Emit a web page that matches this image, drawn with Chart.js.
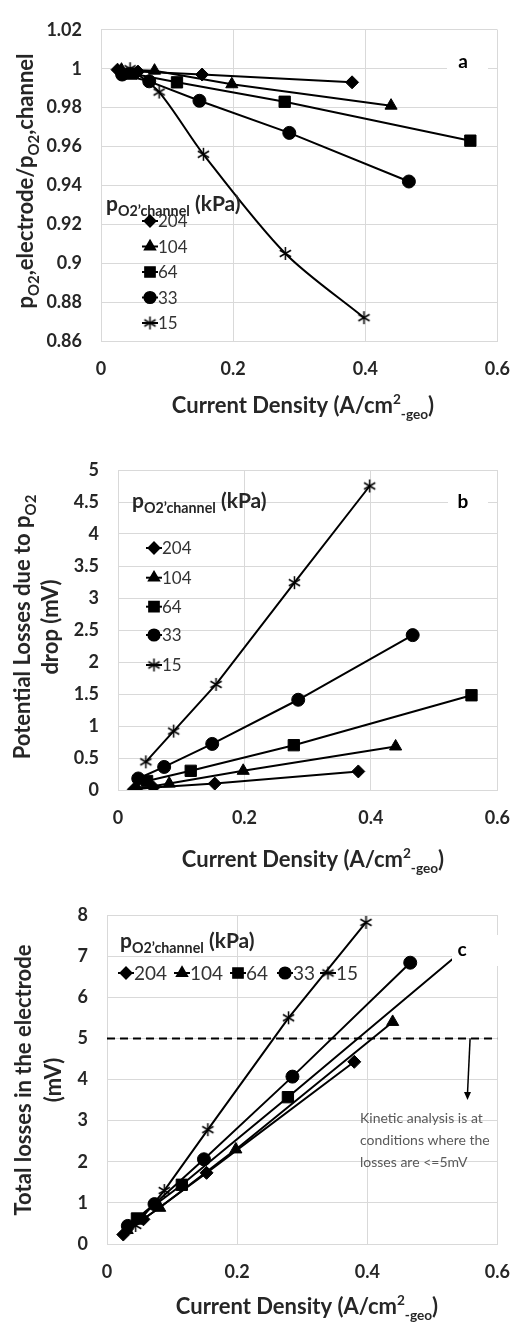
<!DOCTYPE html>
<html>
<head>
<title>Oxygen transport losses</title>
<script src="https://cdn.jsdelivr.net/npm/chart.js"></script>
<style>
  body { margin: 0; background: #ffffff; font-family: Lato, sans-serif; }
  #wrap { position: relative; width: 527px; height: 1323px; }
  canvas { position: absolute; left: 0; }
</style>
</head>
<body>
<div id="wrap">
  <canvas id="chartA" width="527" height="430" style="top:0px"></canvas>
  <canvas id="chartB" width="527" height="450" style="top:430px"></canvas>
  <canvas id="chartC" width="527" height="443" style="top:880px"></canvas>
</div>
<script>
// series: channel pO2 (kPa)
const seriesNames = ["204", "104", "64", "33", "15"];

// current density (A/cm2) of each point, per series
const x204 = [0.025, 0.056, 0.153, 0.38];
const x104 = [0.031, 0.081, 0.198, 0.439];
const x64 = [0.046, 0.115, 0.278, 0.559];
const x33 = [0.032, 0.073, 0.149, 0.285, 0.466];
const x15 = [0.044, 0.088, 0.155, 0.279, 0.398];

// a) pO2 electrode / pO2 channel
const ratio204 = [0.9995, 0.9985, 0.997, 0.993];
const ratio104 = [0.9995, 0.999, 0.992, 0.981];
const ratio64 = [0.9975, 0.993, 0.983, 0.963];
const ratio33 = [0.997, 0.9935, 0.9835, 0.967, 0.942];
const ratio15 = [1.0, 0.988, 0.956, 0.905, 0.872];

// b) potential losses due to pO2 drop (mV)
const drop204 = [0.01, 0.04, 0.1, 0.29];
const drop104 = [0.02, 0.1, 0.3, 0.68];
const drop64 = [0.14, 0.3, 0.7, 1.48];
const drop33 = [0.18, 0.36, 0.72, 1.41, 2.42];
const drop15 = [0.44, 0.92, 1.65, 3.24, 4.75];

// c) total losses in the electrode (mV)
const total204 = [0.23, 0.6, 1.73, 4.43];
const total104 = [0.34, 0.88, 2.3, 5.4];
const total64 = [0.62, 1.44, 3.57, 7.3];
const total33 = [0.44, 0.97, 2.06, 4.07, 6.84];
const total15 = [0.45, 1.3, 2.78, 5.5, 7.82];

// axis ticks
const xTicks = [0, 0.2, 0.4, 0.6];
const yTicksA = [0.86, 0.88, 0.9, 0.92, 0.94, 0.96, 0.98, 1, 1.02];
const yTicksB = [0, 0.5, 1, 1.5, 2, 2.5, 3, 3.5, 4, 4.5, 5];
const yTicksC = [0, 1, 2, 3, 4, 5, 6, 7, 8];

const lossLimit = 5; // mV, kinetic analysis threshold
const arrowFrom = { x: 0.558, y: 5 };
const arrowTo = { x: 0.554, y: 3.5 };

const xLists = [x204, x104, x64, x33, x15];
const GRID = "#d9d9d9";
const TEXT = "#262626";

// six-armed asterisk like the Excel marker
function makeAsterisk(size) {
  const c = document.createElement("canvas");
  c.width = size; c.height = size;
  const g = c.getContext("2d");
  const r = size / 2 - 1;
  g.strokeStyle = "#000";
  g.lineWidth = 1.5;
  [90, 30, -30].forEach((deg) => {
    const a = (deg * Math.PI) / 180;
    g.beginPath();
    g.moveTo(size / 2 - Math.cos(a) * r, size / 2 - Math.sin(a) * r);
    g.lineTo(size / 2 + Math.cos(a) * r, size / 2 + Math.sin(a) * r);
    g.stroke();
  });
  return c;
}
const markers = ["rectRot", "triangle", "rect", "circle", makeAsterisk(15)];
const markerRadius = [6.5, 7, 8, 6.5, 7];

function buildDatasets(yLists, curved) {
  return seriesNames.map((name, i) => ({
    label: name,
    data: xLists[i].map((x, j) => ({ x: x, y: yLists[i][j] })),
    showLine: true,
    borderColor: "#000",
    backgroundColor: "#000",
    borderWidth: 2,
    pointStyle: markers[i],
    pointRadius: markerRadius[i],
    pointHoverRadius: markerRadius[i],
    pointBorderColor: "#000",
    pointBackgroundColor: "#000",
    pointBorderWidth: 1,
    tension: curved && i === 4 ? 0.3 : 0,
  }));
}

function scalesFor(yTicks, yMin, yMax, yWidth, xHeight) {
  const tickFont = { family: "Lato", size: 18, weight: "bold" };
  return {
    x: {
      type: "linear", min: 0, max: 0.6,
      afterBuildTicks: (s) => { s.ticks = xTicks.map((v) => ({ value: v })); },
      afterFit: (s) => { s.height = xHeight; },
      grid: { color: GRID, drawTicks: false },
      border: { color: GRID },
      ticks: { padding: 17, color: TEXT, font: tickFont, callback: (v) => String(v) },
    },
    y: {
      type: "linear", min: yMin, max: yMax,
      afterBuildTicks: (s) => { s.ticks = yTicks.map((v) => ({ value: v })); },
      afterFit: (s) => { s.width = yWidth; },
      grid: { color: GRID, drawTicks: false },
      border: { color: GRID },
      ticks: { padding: 19, color: TEXT, font: tickFont, callback: (v) => String(v) },
    },
  };
}

// text with sub/superscripts: parts = [text, scale, shift]
function drawRich(ctx, parts, x, y, opt) {
  ctx.save();
  ctx.translate(x, y);
  if (opt.rotate) ctx.rotate(-Math.PI / 2);
  ctx.fillStyle = opt.color || TEXT;
  ctx.textBaseline = "alphabetic";
  ctx.textAlign = "left";
  const fontOf = (p) => `${opt.weight || "bold"} ${opt.size * (p[1] || 1)}px Lato`;
  let w = 0;
  parts.forEach((p) => { ctx.font = fontOf(p); w += ctx.measureText(p[0]).width; });
  let cx = opt.align === "left" ? 0 : -w / 2;
  parts.forEach((p) => {
    ctx.font = fontOf(p);
    ctx.fillText(p[0], cx, (p[2] || 0) * opt.size);
    cx += ctx.measureText(p[0]).width;
  });
  ctx.restore();
}

function drawKey(ctx, i, cx, cy, size) {
  ctx.save();
  ctx.strokeStyle = "#000";
  ctx.fillStyle = "#000";
  ctx.lineWidth = 2;
  ctx.beginPath();
  ctx.moveTo(cx - 8, cy);
  ctx.lineTo(cx + 8, cy);
  ctx.stroke();
  ctx.lineWidth = 1.5;
  Chart.helpers.drawPoint(ctx, { pointStyle: markers[i], radius: markerRadius[i] * 0.9, borderWidth: 1.5, rotation: 0 }, cx, cy);
  ctx.fillStyle = "#333";
  ctx.font = `${size}px Lato`;
  ctx.textBaseline = "middle";
  ctx.textAlign = "left";
  ctx.fillText(seriesNames[i], cx + 8, cy + 1);
  ctx.restore();
}

function drawTag(ctx, letter, box, lx, ly) {
  ctx.save();
  ctx.fillStyle = "#fff";
  ctx.fillRect(box[0], box[1], box[2], box[3]);
  ctx.fillStyle = "#000";
  ctx.font = "bold 19px Lato";
  ctx.textAlign = "center";
  ctx.textBaseline = "middle";
  ctx.fillText(letter, lx, ly);
  ctx.restore();
}

const xTitle = [["Current Density (A/cm"], ["2", 0.62, -0.42], ["-geo", 0.62, 0.28], [")"]];
const keyTitle = [["p"], ["O2\u2019channel", 0.68, 0.25], [" (kPa)"]];

const decorA = {
  id: "decorA",
  afterDraw(chart) {
    const ctx = chart.ctx;
    drawRich(ctx, xTitle, 303, 413, { size: 22 });
    drawRich(ctx, [["p"], ["O2", 0.68, 0.25], [",electrode/p"], ["O2", 0.68, 0.25], [",channel"]], 33, 181, { size: 22, rotate: true });
    drawTag(ctx, "a", [447, 50, 41, 24], 463, 62);
    drawRich(ctx, keyTitle, 106, 211, { size: 21, align: "left" });
    [221, 246.5, 272, 297.5, 323].forEach((y, i) => drawKey(ctx, i, 150, y, 17));
  },
};

const decorB = {
  id: "decorB",
  afterDraw(chart) {
    const ctx = chart.ctx;
    drawRich(ctx, xTitle, 313, 437, { size: 22 });
    drawRich(ctx, [["Potential Losses due to p"], ["O2", 0.68, 0.25]], 30, 197, { size: 22, rotate: true });
    drawRich(ctx, [["drop (mV)"]], 58, 197, { size: 22, rotate: true });
    drawTag(ctx, "b", [448, 60, 40, 24], 463, 72);
    drawRich(ctx, keyTitle, 132, 78, { size: 21, align: "left" });
    [118, 147.7, 176.7, 205, 235].forEach((y, i) => drawKey(ctx, i, 154, y, 17));
  },
};

const decorC = {
  id: "decorC",
  afterDraw(chart) {
    const ctx = chart.ctx;
    const sx = chart.scales.x, sy = chart.scales.y;
    drawRich(ctx, xTitle, 307, 434, { size: 22 });
    drawRich(ctx, [["Total losses in the electrode"]], 31, 200, { size: 22, rotate: true });
    drawRich(ctx, [["(mV)"]], 61, 200, { size: 22, rotate: true });
    drawTag(ctx, "c", [452, 55, 48, 31], 462, 70);
    drawRich(ctx, keyTitle, 120, 68, { size: 21, align: "left" });
    [126, 182, 238, 285, 328].forEach((x, i) => drawKey(ctx, i, x, 93, 19));

    // arrow to the note
    const x1 = sx.getPixelForValue(arrowFrom.x), y1 = sy.getPixelForValue(arrowFrom.y);
    const x2 = sx.getPixelForValue(arrowTo.x), y2 = sy.getPixelForValue(arrowTo.y);
    ctx.save();
    ctx.strokeStyle = "#000";
    ctx.fillStyle = "#000";
    ctx.lineWidth = 1.5;
    ctx.beginPath();
    ctx.moveTo(x1, y1);
    ctx.lineTo(x2, y2 - 6);
    ctx.stroke();
    ctx.beginPath();
    ctx.moveTo(x2, y2);
    ctx.lineTo(x2 - 3.5, y2 - 8);
    ctx.lineTo(x2 + 3.5, y2 - 8);
    ctx.closePath();
    ctx.fill();
    ctx.fillStyle = "#595959";
    ctx.font = "14px Lato";
    ctx.textBaseline = "middle";
    ctx.fillText("Kinetic analysis is at", 360, 238);
    ctx.fillText("conditions where the", 360, 260);
    ctx.fillText("losses are <=5mV", 360, 282);
    ctx.restore();
  },
};

const baseOptions = (padding, scales) => ({
  responsive: false,
  animation: false,
  devicePixelRatio: 1,
  layout: { padding: padding },
  plugins: { legend: { display: false }, tooltip: { enabled: false } },
  scales: scales,
});

// a) oxygen partial pressure ratio
new Chart(document.getElementById("chartA"), {
  type: "scatter",
  data: { datasets: buildDatasets([ratio204, ratio104, ratio64, ratio33, ratio15], true) },
  options: baseOptions({ top: 20, right: 22, left: 0, bottom: 0 }, scalesFor(yTicksA, 0.86, 1.02, 101, 89)),
  plugins: [decorA],
});

// b) potential losses from the pO2 drop
new Chart(document.getElementById("chartB"), {
  type: "scatter",
  data: { datasets: buildDatasets([drop204, drop104, drop64, drop33, drop15], false) },
  options: baseOptions({ top: 40, right: 18, left: 0, bottom: 0 }, scalesFor(yTicksB, 0, 5, 118, 90)),
  plugins: [decorB],
});

// c) total losses with the 5 mV limit
const totalSets = buildDatasets([total204, total104, total64, total33, total15], false);
totalSets.push({
  label: "limit",
  data: [{ x: 0, y: lossLimit }, { x: 0.6, y: lossLimit }],
  showLine: true,
  borderColor: "#000",
  borderWidth: 2,
  borderDash: [8, 5],
  pointRadius: 0,
});
new Chart(document.getElementById("chartC"), {
  type: "scatter",
  data: { datasets: totalSets },
  options: baseOptions({ top: 35, right: 19, left: 0, bottom: 0 }, scalesFor(yTicksC, 0, 8, 107, 79)),
  plugins: [decorC],
});
</script>
</body>
</html>
